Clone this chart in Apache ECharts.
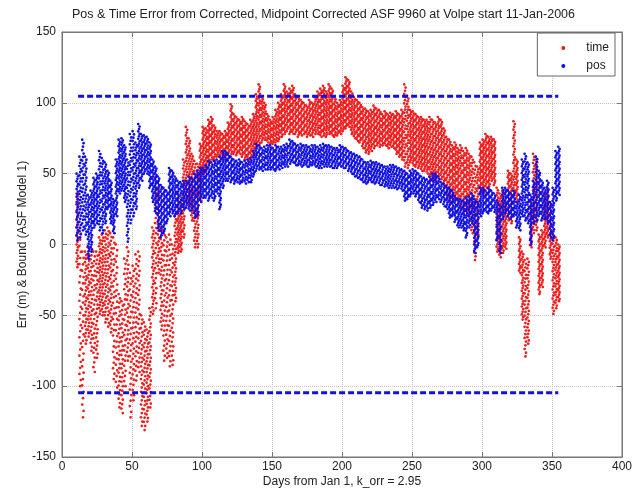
<!DOCTYPE html>
<html><head><meta charset="utf-8">
<script src="https://cdn.jsdelivr.net/npm/echarts@6/dist/echarts.min.js"></script>
<style>html,body{margin:0;padding:0;background:#fff}#c{width:641px;height:489px}</style>
</head><body><div id="c"></div>
<script>
// Day of year (every 2 days)
const days = [11,13,15,17,19,21,23,25,27,29,31,33,35,37,39,41,43,45,47,49,51,53,55,57,59,61,63,65,67,69,71,73,75,77,79,81,83,85,87,89,91,93,95,97,99,101,103,105,107,109,111,113,115,117,119,121,123,125,127,129,131,133,135,137,139,141,143,145,147,149,151,153,155,157,159,161,163,165,167,169,171,173,175,177,179,181,183,185,187,189,191,193,195,197,199,201,203,205,207,209,211,213,215,217,219,221,223,225,227,229,231,233,235,237,239,241,243,245,247,249,251,253,255,257,259,261,263,265,267,269,271,273,275,277,279,281,283,285,287,289,291,293,295,297,299,301,303,305,307,309,311,313,315,317,319,321,323,325,327,329,331,333,335,337,339,341,343,345,347,349,351,353,355];
// time error: low / high of the point cloud at each day
const timeLo = [-16,-100,-122,-70,-65,-75,-90,-80,-49,-50,-55,-58,-62,-95,-105,-115,-119,-100,-82,-122,-110,-96,-90,-128,-131,-125,-115,-49,-45,-20,-60,-82,-80,-86,-85,-40,-6,-5,5,31,28,17,-2,-2,31,50,52,58,60,59,62,62,60,59,62,64,64,63,64,62,60,59,60,62,69,70,72,74,72,70,71,72,73,76,78,80,78,78,78,76,77,78,76,77,76,78,78,76,77,76,78,77,76,77,78,80,82,83,78,75,73,72,68,65,64,66,68,70,69,70,70,68,69,68,64,62,60,55,54,58,56,55,54,52,52,50,46,45,45,48,46,40,32,31,30,32,30,25,22,24,20,8,-11,5,36,35,40,38,45,42,-5,-9,-6,-3,17,15,36,30,-20,-53,-79,-70,-2,8,10,-35,-30,-2,5,-10,-49,-45,-40];
const timeHi = [36,12,-5,-5,-2,-2,-5,-5,5,7,10,12,8,5,0,-35,-40,-10,-2,-20,-15,-7,-5,-50,-55,-60,-45,12,47,44,12,10,5,7,0,20,36,30,60,83,75,64,59,57,71,83,82,88,90,84,80,80,78,80,86,99,92,90,88,90,87,85,88,92,106,113,104,100,92,88,90,95,100,106,113,108,110,112,106,104,102,100,98,102,100,104,108,110,112,108,113,110,104,100,102,112,118,116,108,104,102,100,97,96,94,95,98,96,95,92,94,92,93,92,94,92,95,113,105,95,94,92,90,90,88,88,90,88,86,90,88,82,76,74,70,72,68,70,66,68,64,62,58,55,72,74,78,76,76,74,40,36,38,30,52,50,87,60,5,-5,-11,-10,31,64,60,7,10,36,40,30,7,5,0];
// position error: low / high of the point cloud at each day
const posLo = [3,5,10,7,-10,-5,12,15,10,8,15,25,15,8,20,36,38,30,2,15,20,25,40,45,50,50,40,30,22,10,5,8,15,20,22,20,22,22,25,26,24,24,19,20,30,33,33,31,33,31,36,25,40,45,45,44,43,44,43,44,43,44,44,48,52,53,52,53,53,53,53,52,53,54,55,55,57,58,56,56,55,56,55,55,56,55,54,54,55,55,55,54,54,54,55,54,54,52,50,48,47,46,44,43,44,44,43,44,42,42,41,40,40,40,39,40,38,31,32,34,36,34,30,26,25,24,26,28,30,32,30,27,25,19,20,16,12,12,10,5,12,15,-6,-2,20,22,23,22,24,23,3,-6,18,22,20,18,20,12,10,20,17,15,0,15,17,20,17,18,15,5,3,31,35];
const posHi = [50,62,74,62,35,38,47,50,66,61,58,52,45,32,60,74,75,70,60,78,80,72,85,78,77,76,72,60,55,48,42,40,38,54,52,48,45,44,45,45,48,47,50,52,54,54,56,59,58,59,60,62,66,66,64,62,60,59,60,58,59,60,61,66,71,70,68,69,70,70,68,70,69,69,70,71,74,73,71,70,71,70,70,69,70,70,69,70,71,70,70,69,68,68,70,69,68,66,65,64,63,62,60,58,58,59,58,58,57,56,55,55,56,56,55,54,53,52,50,52,53,52,50,48,47,46,48,50,50,48,44,43,41,40,38,34,32,32,31,33,34,36,32,30,40,40,38,40,38,36,31,28,40,40,38,36,38,30,35,60,64,58,35,45,62,52,45,40,45,30,40,66,69];
// ASF bound
const boundDays = [11.5, 354.5];
const boundUpper = [104.7, 104.7];
const boundLower = [-104.7, -104.7];
const xTicks = [0,50,100,150,200,250,300,350,400];
const yTicks = [-150,-100,-50,0,50,100,150];

const timeData = days.map((d,i)=>[d,timeLo[i],timeHi[i]]);
const posData = days.map((d,i)=>[d,posLo[i],posHi[i]]);

// draws the cloud between low and high at one day as a column of small dots
function rangeRenderer(color){
  return function(params, api){
    const a = api.coord([api.value(0), api.value(1)]);
    const b = api.coord([api.value(0), api.value(2)]);
    const len = Math.abs(a[1]-b[1]);
    const step = Math.max(2.1, len/26);
    const n = Math.floor(len/step)+1;
    const children = [];
    for(let k=0;k<n;k++){
      const y = b[1] + (n>1 ? k*len/(n-1) : 0);
      const dx = (k%3===0)?-0.8:((k%3===1)?0.6:0);
      children.push({type:'circle', shape:{cx:a[0]+dx, cy:y, r:1.35}, style:{fill:color}});
    }
    return {type:'group', children:children};
  };
}
const RED='#ee1c1c', BLUE='#1010e0';
const fontFam = '"Liberation Sans", Arial, sans-serif';
const chart = echarts.init(document.getElementById('c'), null, {renderer:'canvas'});
const axisLine = {show:true, onZero:false, lineStyle:{color:'#777', width:1}};
chart.setOption({
  animation:false,
  backgroundColor:'#fff',
  title:{text:'Pos & Time Error from Corrected, Midpoint Corrected ASF 9960 at Volpe start 11-Jan-2006',
    left:67, top:3, textStyle:{fontSize:12.5, fontWeight:'normal', color:'#222', fontFamily:fontFam}},
  grid:{left:62, right:19, top:32, bottom:32, show:true, borderColor:'#777', borderWidth:1,
    containLabel:false, outerBoundsMode:'none'},
  legend:{data:[{name:'time',icon:'circle'},{name:'pos',icon:'circle'}],
    orient:'vertical', right:26, top:33, itemWidth:36, itemHeight:4, itemGap:6,
    padding:[9,6,4,24], backgroundColor:'#fff', borderColor:'#666', borderWidth:1, borderRadius:0,
    textStyle:{fontSize:12, color:'#222', fontFamily:fontFam}},
  xAxis:[{type:'value', min:0, max:400, interval:50,
    name:'Days from Jan 1, k_orr = 2.95', nameLocation:'middle', nameGap:19, nameMoveOverlap:false,
    nameTextStyle:{fontSize:12, color:'#222', fontFamily:fontFam},
    axisLine:axisLine, axisTick:{inside:true, length:5, lineStyle:{color:'#777'}},
    axisLabel:{fontSize:12, color:'#222', fontFamily:fontFam, margin:4},
    splitLine:{show:true, lineStyle:{type:'dotted', color:'#c4c4c4'}}},
    {type:'value', min:0, max:400, interval:50, position:'top',
    axisLine:axisLine, axisTick:{inside:true, length:5, lineStyle:{color:'#777'}},
    axisLabel:{show:false}, splitLine:{show:false}}],
  yAxis:[{type:'value', min:-150, max:150, interval:50,
    name:'Err (m) & Bound (ASF Model 1)', nameLocation:'middle', nameGap:33, nameMoveOverlap:false,
    nameTextStyle:{fontSize:12, color:'#222', fontFamily:fontFam},
    axisLine:axisLine, axisTick:{inside:true, length:5, lineStyle:{color:'#777'}},
    axisLabel:{fontSize:12, color:'#222', fontFamily:fontFam, margin:6},
    splitLine:{show:true, lineStyle:{type:'dotted', color:'#c4c4c4'}}},
    {type:'value', min:-150, max:150, interval:50, position:'right',
    axisLine:axisLine, axisTick:{inside:true, length:5, lineStyle:{color:'#777'}},
    axisLabel:{show:false}, splitLine:{show:false}}],
  series:[
    {name:'time', type:'custom', renderItem:rangeRenderer(RED), itemStyle:{color:RED},
      encode:{x:0, y:[1,2]}, data:timeData, z:2},
    {name:'pos', type:'custom', renderItem:rangeRenderer(BLUE), itemStyle:{color:BLUE},
      encode:{x:0, y:[1,2]}, data:posData, z:3},
    {name:'bound+', type:'line', data:boundDays.map((d,i)=>[d,boundUpper[i]]), symbol:'none',
      lineStyle:{color:BLUE, width:3, type:[6,3]}, z:4},
    {name:'bound-', type:'line', data:boundDays.map((d,i)=>[d,boundLower[i]]), symbol:'none',
      lineStyle:{color:BLUE, width:3, type:[6,3]}, z:4}
  ]
});
</script></body></html>
